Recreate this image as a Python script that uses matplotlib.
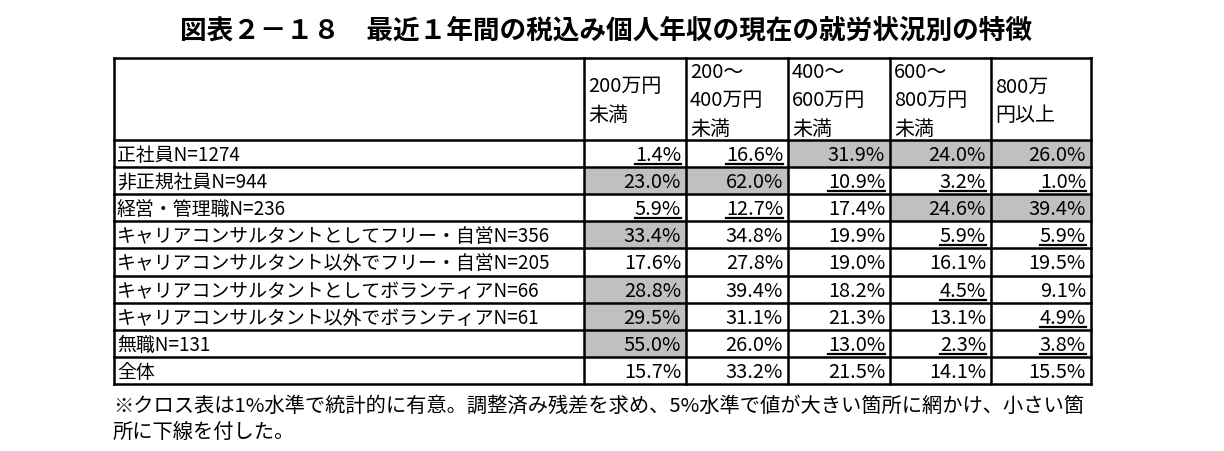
import matplotlib
matplotlib.use("Agg")
import matplotlib.pyplot as plt

plt.rcParams['font.family'] = ['Noto Sans CJK JP', 'DejaVu Sans']

title = "図表２－１８　最近１年間の税込み個人年収の現在の就労状況別の特徴"
note = ("※クロス表は1%水準で統計的に有意。調整済み残差を求め、5%水準で値が大きい箇所に網かけ、小さい箇\n"
        "所に下線を付した。")

col_labels = ["200万円\n未満", "200～\n400万円\n未満", "400～\n600万円\n未満",
              "600～\n800万円\n未満", "800万\n円以上"]
row_labels = ["正社員N=1274", "非正規社員N=944", "経営・管理職N=236",
              "キャリアコンサルタントとしてフリー・自営N=356",
              "キャリアコンサルタント以外でフリー・自営N=205",
              "キャリアコンサルタントとしてボランティアN=66",
              "キャリアコンサルタント以外でボランティアN=61",
              "無職N=131", "全体"]

seishain = [1.4, 16.6, 31.9, 24.0, 26.0]
hiseiki = [23.0, 62.0, 10.9, 3.2, 1.0]
keiei = [5.9, 12.7, 17.4, 24.6, 39.4]
cc_free = [33.4, 34.8, 19.9, 5.9, 5.9]
other_free = [17.6, 27.8, 19.0, 16.1, 19.5]
cc_vol = [28.8, 39.4, 18.2, 4.5, 9.1]
other_vol = [29.5, 31.1, 21.3, 13.1, 4.9]
mushoku = [55.0, 26.0, 13.0, 2.3, 3.8]
zentai = [15.7, 33.2, 21.5, 14.1, 15.5]

# H = shaded (large residual), L = underlined (small residual)
marks = ["LLHHH", "HHLLL", "LL-HH", "H--LL", "-----",
         "H--L-", "H---L", "H-LLL", "-----"]

values = [seishain, hiseiki, keiei, cc_free, other_free,
          cc_vol, other_vol, mushoku, zentai]

# layout (pixel space)
W, H = 1224, 452
x_edges = [114, 584, 686, 788, 890, 991, 1091]
y_top, y_head, y_bot = 59, 141, 385
n_rows = len(row_labels)
row_h = (y_bot - y_head) / n_rows
y_edges = [y_head + i * row_h for i in range(n_rows + 1)]

fig = plt.figure(figsize=(W / 100, H / 100), dpi=100)
ax = fig.add_axes([0, 0, 1, 1])
ax.set_xlim(0, W)
ax.set_ylim(H, 0)
ax.axis('off')

fs = 13.6
ax.text(W / 2 - 6, 31, title, ha='center', va='center', fontsize=19.2,
        fontweight='bold')

# shading
for i, row in enumerate(marks):
    for j, m in enumerate(row):
        if m == 'H':
            ax.add_patch(plt.Rectangle((x_edges[j + 1], y_edges[i]),
                                       x_edges[j + 2] - x_edges[j + 1], row_h,
                                       facecolor='#c0c0c0', edgecolor='none'))

# grid lines
for x in x_edges:
    ax.plot([x, x], [y_top, y_bot], color='black', lw=1.8, solid_capstyle='projecting')
for y in [y_top] + y_edges:
    ax.plot([x_edges[0], x_edges[-1]], [y, y], color='black', lw=1.8,
            solid_capstyle='projecting')

# headers
for j, lab in enumerate(col_labels):
    ax.text(x_edges[j + 1] + 4, (y_top + y_head) / 2 + 1, lab, ha='left', va='center',
            fontsize=14.4, linespacing=1.45)

texts = []
for i, lab in enumerate(row_labels):
    yc = y_edges[i] + row_h / 2
    ax.text(x_edges[0] + 3, yc + 1, lab, ha='left', va='center', fontsize=fs)
    for j, v in enumerate(values[i]):
        t = ax.text(x_edges[j + 2] - 5, yc + 1, f"{v:.1f}%", ha='right',
                    va='center', fontsize=14.4)
        if marks[i][j] == 'L':
            texts.append((t, y_edges[i + 1]))

fig.canvas.draw()
inv = ax.transData.inverted()
for t, yb in texts:
    bb = t.get_window_extent()
    (x0, _), (x1, _) = inv.transform([(bb.x0, bb.y0), (bb.x1, bb.y1)])
    ax.plot([x0, x1], [yb - 3, yb - 3], color='black', lw=1.6)

ax.text(x_edges[0] - 1, 396, note, ha='left', va='top', fontsize=14.6,
        linespacing=1.3)

fig.savefig("out.png", dpi=100)
